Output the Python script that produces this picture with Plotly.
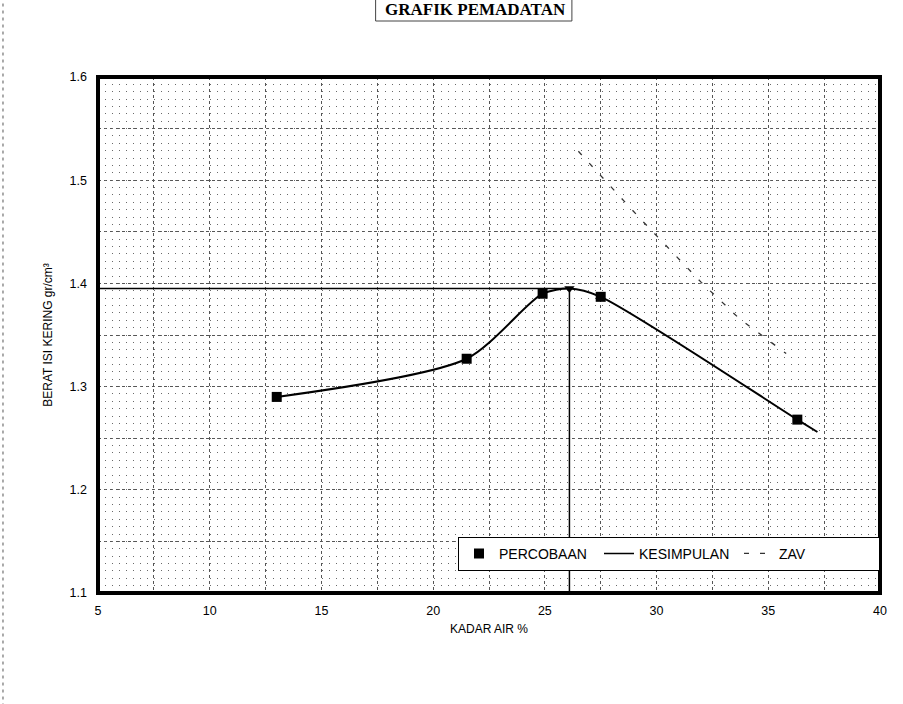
import plotly.graph_objects as go

# Compaction test results (Proctor)
kadar_air = [13.0, 21.5, 24.9, 27.5, 36.3]
berat_isi = [1.290, 1.327, 1.390, 1.387, 1.268]

# Smoothed compaction curve through the test points and the optimum
kurva_x = [13.0, 21.5, 24.9, 26.1, 27.5, 36.3, 37.2]
kurva_y = [1.290, 1.327, 1.390, 1.395, 1.387, 1.268, 1.256]

# Conclusion: optimum moisture content and maximum dry density
w_opt = 26.1
gd_max = 1.395

# Zero-air-voids line
zav_x = [26.5, 29.3, 32.0, 33.7, 35.8]
zav_y = [1.528, 1.462, 1.401, 1.366, 1.332]

x_ticks = [5, 10, 15, 20, 25, 30, 35, 40]
y_ticks = [1.1, 1.2, 1.3, 1.4, 1.5, 1.6]

FONT = "Liberation Sans, Arial, sans-serif"

fig = go.Figure()

# texture trace on overlay axes (keeps dotted grid axes alive)
fig.add_trace(go.Scatter(x=[None], y=[None], xaxis="x2", yaxis="y2",
                         showlegend=False, hoverinfo="skip"))

fig.add_trace(go.Scatter(x=kurva_x, y=kurva_y, mode="lines",
                         line=dict(color="black", width=2, shape="spline", smoothing=0.75),
                         showlegend=False, hoverinfo="skip"))

fig.add_trace(go.Scatter(x=zav_x, y=zav_y, mode="lines", name="ZAV",
                         line=dict(color="#333", width=1.3, dash="5px,11px"),
                         legendrank=3))

fig.add_trace(go.Scatter(x=[5, w_opt, w_opt], y=[gd_max, gd_max, 1.1], mode="lines",
                         name="KESIMPULAN", line=dict(color="black", width=1.5),
                         legendrank=2))

fig.add_trace(go.Scatter(x=[w_opt], y=[gd_max], mode="markers",
                         marker=dict(symbol="triangle-down", size=9, color="black"),
                         showlegend=False, hoverinfo="skip"))

fig.add_trace(go.Scatter(x=kadar_air, y=berat_isi, mode="markers", name="PERCOBAAN",
                         marker=dict(symbol="square", size=10, color="black"),
                         legendrank=1))

grid_dash = "3px,3px"
grid_col = "#555"

fig.update_layout(
    width=903, height=704,
    margin=dict(l=98, r=23, t=77, b=111),
    paper_bgcolor="white", plot_bgcolor="white",
    font=dict(family=FONT, size=12, color="black"),
    xaxis=dict(range=[5, 40], tickvals=x_ticks, ticks="", showline=False,
               showgrid=True, gridcolor=grid_col, gridwidth=1, griddash=grid_dash,
               minor=dict(dtick=2.5, tick0=5, showgrid=True, gridcolor=grid_col,
                          griddash=grid_dash, gridwidth=1),
               zeroline=False, ticklabelstandoff=8,
               tickfont=dict(size=12.5),
               title=dict(text="KADAR AIR %", font=dict(size=12), standoff=8)),
    yaxis=dict(range=[1.1, 1.6], tickvals=y_ticks, tickformat=".1f", ticks="",
               showgrid=True, gridcolor=grid_col, gridwidth=1, griddash=grid_dash,
               minor=dict(dtick=0.05, tick0=1.1, showgrid=True, gridcolor=grid_col,
                          griddash=grid_dash, gridwidth=1),
               zeroline=False, ticklabelstandoff=10,
               tickfont=dict(size=12.5),
               title=dict(text="BERAT ISI KERING gr/cm\u00b3", font=dict(size=12), standoff=14)),
    xaxis2=dict(overlaying="x", range=[5, 40], showticklabels=False, ticks="",
                showgrid=False, zeroline=False),
    yaxis2=dict(overlaying="y", range=[1.1, 1.6], dtick=0.05 / 7, tick0=1.1,
                showticklabels=False, ticks="", showgrid=True,
                gridcolor="#6a6a6a", gridwidth=1, griddash="1px,6px", zeroline=False),
    legend=dict(orientation="h", x=1, xanchor="right", y=0.043, yanchor="bottom",
                bgcolor="white", bordercolor="black", borderwidth=1,
                font=dict(size=14, family=FONT), itemwidth=30,
                entrywidth=95, traceorder="normal"),
    showlegend=True,
)

# heavy frame around the plotting area
fig.add_shape(type="rect", xref="x domain", yref="y domain", x0=0, x1=1, y0=0, y1=1,
              line=dict(color="black", width=4), layer="above")

# page edge rule on the far left
fig.add_shape(type="line", xref="paper", yref="paper", x0=-0.1215, x1=-0.1215,
              y0=-0.22, y1=1.16, line=dict(color="#555", width=1, dash="3px,4px"))

# boxed heading
fig.add_annotation(text="<b>GRAFIK PEMADATAN</b>", xref="paper", yref="paper",
                   x=0.483, y=1.13, xanchor="center", yanchor="middle", showarrow=False,
                   font=dict(family="Liberation Serif, Times New Roman, serif", size=17))
fig.add_shape(type="line", xref="paper", yref="paper", x0=0.355, x1=0.606,
              y0=1.1085, y1=1.1085, line=dict(color="#444", width=1))
fig.add_shape(type="line", xref="paper", yref="paper", x0=0.355, x1=0.355,
              y0=1.1085, y1=1.16, line=dict(color="#444", width=1))
fig.add_shape(type="line", xref="paper", yref="paper", x0=0.606, x1=0.606,
              y0=1.1085, y1=1.16, line=dict(color="#444", width=1))

fig.write_html("out.html")
